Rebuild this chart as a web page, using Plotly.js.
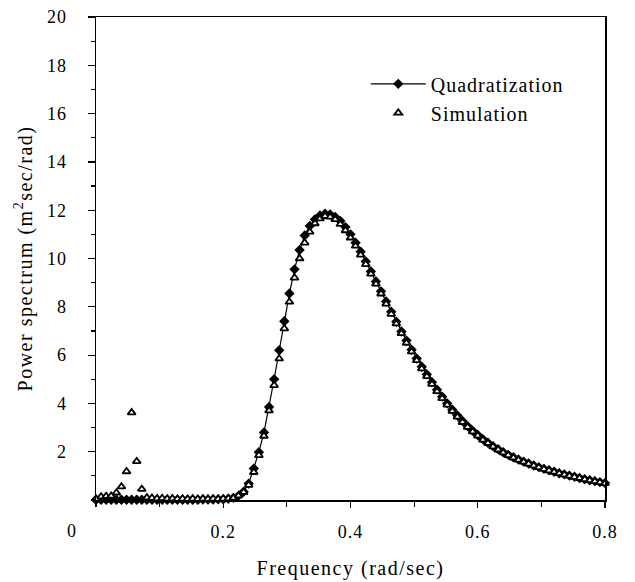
<!DOCTYPE html>
<html><head><meta charset="utf-8">
<script src="https://cdn.plot.ly/plotly-3.0.1.min.js"></script>
<style>
body{margin:0;background:#fff}
.legendtext{letter-spacing:1px}
.xtitle,.ytitle{letter-spacing:1.5px}
.xtick text,.ytick text,.annotation-text{letter-spacing:1px}
</style>
</head><body><div id="chart" style="width:635px;height:582px"></div>
<script>
const frequency = [0.000,0.008,0.016,0.024,0.032,0.040,0.048,0.056,0.064,0.072,
0.080,0.088,0.096,0.104,0.112,0.120,0.128,0.136,0.144,0.152,
0.160,0.168,0.176,0.184,0.192,0.200,0.208,0.216,0.224,0.232,
0.240,0.248,0.256,0.264,0.272,0.280,0.288,0.296,0.304,0.312,
0.320,0.328,0.336,0.344,0.352,0.360,0.368,0.376,0.384,0.392,
0.400,0.408,0.416,0.424,0.432,0.440,0.448,0.456,0.464,0.472,
0.480,0.488,0.496,0.504,0.512,0.520,0.528,0.536,0.544,0.552,
0.560,0.568,0.576,0.584,0.592,0.600,0.608,0.616,0.624,0.632,
0.640,0.648,0.656,0.664,0.672,0.680,0.688,0.696,0.704,0.712,
0.720,0.728,0.736,0.744,0.752,0.760,0.768,0.776,0.784,0.792,0.800];

const quadratization = [0.01,0.01,0.01,0.01,0.01,0.01,0.01,0.01,0.01,0.01,
0.01,0.01,0.01,0.01,0.01,0.01,0.01,0.01,0.01,0.01,
0.01,0.02,0.02,0.02,0.03,0.03,0.05,0.09,0.18,0.34,
0.68,1.30,1.98,2.80,3.85,5.00,6.20,7.40,8.55,9.55,
10.35,10.95,11.35,11.62,11.78,11.85,11.82,11.72,11.55,11.30,
11.00,10.65,10.28,9.88,9.46,9.05,8.64,8.22,7.80,7.38,
6.98,6.60,6.22,5.86,5.52,5.20,4.88,4.57,4.28,4.00,
3.74,3.50,3.27,3.06,2.87,2.69,2.52,2.37,2.23,2.10,
1.98,1.87,1.77,1.68,1.59,1.51,1.43,1.36,1.29,1.23,
1.17,1.11,1.06,1.01,0.96,0.91,0.86,0.82,0.78,0.74,0.70];

const simulation = [0.05,0.14,0.16,0.17,0.30,0.55,1.18,3.62,1.60,0.45,
0.10,0.08,0.06,0.07,0.05,0.06,0.04,0.05,0.04,0.05,
0.04,0.05,0.04,0.05,0.04,0.05,0.06,0.09,0.18,0.32,
0.62,1.15,1.85,2.65,3.70,4.75,5.85,7.10,8.20,9.20,
10.00,10.65,11.10,11.45,11.65,11.75,11.72,11.62,11.42,11.16,
10.86,10.52,10.15,9.76,9.36,8.95,8.54,8.12,7.70,7.30,
6.90,6.50,6.14,5.78,5.44,5.12,4.80,4.50,4.21,3.94,
3.68,3.44,3.22,3.02,2.83,2.66,2.49,2.35,2.21,2.08,
1.96,1.85,1.75,1.66,1.58,1.50,1.42,1.35,1.28,1.22,
1.16,1.10,1.05,1.00,0.95,0.90,0.85,0.81,0.77,0.73,0.69];

const yTickVals = [2,4,6,8,10,12,14,16,18,20];
const xTickVals = [0.2,0.4,0.6,0.8];
const xTickText = ['0.2','0.4','0.6','0.8'];
const originLabel = '0';

const serif = '"Liberation Serif", "Times New Roman", serif';

const traces = [
  {x: frequency, y: quadratization, name: 'Quadratization', type: 'scatter', mode: 'lines+markers',
   line: {color: '#000', width: 1.2},
   marker: {symbol: 'diamond', size: 8, color: '#000'}, cliponaxis: false},
  {x: frequency, y: simulation, name: 'Simulation', type: 'scatter', mode: 'markers',
   marker: {symbol: 'triangle-up', size: 7, color: '#fff', line: {color: '#000', width: 1.8}}, cliponaxis: false}
];

const layout = {
  width: 635, height: 582,
  margin: {l: 96, r: 30, t: 17, b: 82},
  paper_bgcolor: '#fff', plot_bgcolor: '#fff',
  font: {family: serif, color: '#000', size: 18},
  showlegend: true,
  legend: {x: 0.53, y: 0.902, xanchor: 'left', yanchor: 'top', font: {size: 20, family: serif},
           bgcolor: 'rgba(0,0,0,0)', itemwidth: 55, tracegroupgap: 0},
  xaxis: {range: [0, 0.8], tickmode: 'array', tickvals: xTickVals, ticktext: xTickText,
          ticks: 'outside', ticklen: 6, tickwidth: 1.2, tickcolor: '#000',
          showline: true, linecolor: '#000', linewidth: 1.5, mirror: true,
          showgrid: false, zeroline: false, ticklabelstandoff: 9,
          minor: {dtick: 0.1, tick0: 0, ticks: 'outside', ticklen: 5, tickwidth: 1.2, tickcolor: '#000', showgrid: false},
          title: {text: 'Frequency (rad/sec)', font: {size: 20, family: serif}, standoff: 20}},
  yaxis: {range: [0, 20], tickmode: 'array', tickvals: yTickVals,
          ticks: 'outside', ticklen: 7, tickwidth: 1.2, tickcolor: '#000',
          showline: true, linecolor: '#000', linewidth: 1.5, mirror: true,
          showgrid: false, zeroline: false, ticklabelstandoff: 17,
          minor: {dtick: 1, tick0: 0, ticks: 'outside', ticklen: 4, tickwidth: 1.2, tickcolor: '#000', showgrid: false},
          title: {text: 'Power spectrum (m<sup>2</sup>sec/rad)', font: {size: 20, family: serif}, standoff: 9}},
  annotations: [{x: 0, y: 0, xref: 'x', yref: 'paper', text: originLabel, showarrow: false,
                 xanchor: 'center', yanchor: 'middle',
                 xshift: -24, yshift: -31, font: {size: 18, family: serif}}]
};

Plotly.newPlot('chart', traces, layout, {displayModeBar: false, staticPlot: true});
</script>
</body></html>
